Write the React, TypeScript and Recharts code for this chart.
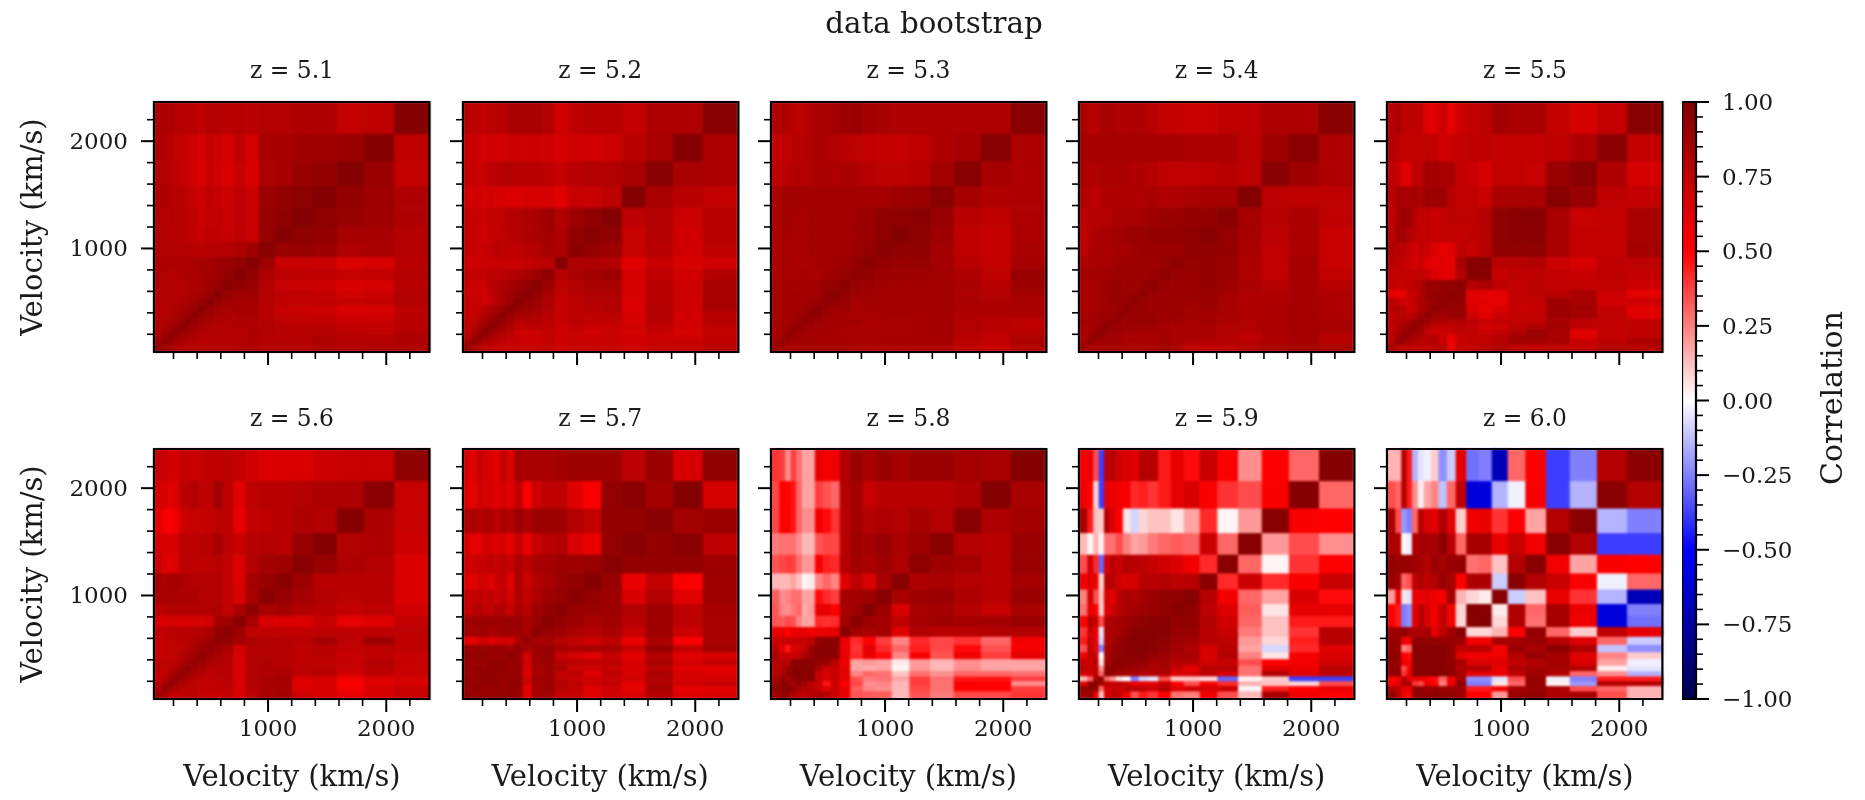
import { ComposedChart, ReferenceArea, Scatter, XAxis, YAxis } from "recharts";

// bin edges in km/s, 20 bins
const velEdges = [35, 110, 160, 205, 250, 300, 350, 410, 475, 545, 620, 710, 815, 925, 1060, 1210, 1385, 1585, 1815, 2070, 2365];
const velTicks = [200, 400, 600, 800, 1000, 1200, 1400, 1600, 1800, 2000, 2200];
const velLabels = [1000, 2000];
const cbarTicks = [-1, -0.95, -0.9, -0.85, -0.8, -0.75, -0.7, -0.65, -0.6, -0.55, -0.5, -0.45, -0.4, -0.35, -0.3, -0.25, -0.2, -0.15, -0.1, -0.05, 0, 0.05, 0.1, 0.15, 0.2, 0.25, 0.3, 0.35, 0.4, 0.45, 0.5, 0.55, 0.6, 0.65, 0.7, 0.75, 0.8, 0.85, 0.9, 0.95, 1];
const cbarLabels = [-1, -0.75, -0.5, -0.25, 0, 0.25, 0.5, 0.75, 1];
const cmapOffsets = [0, 0.25, 0.5, 0.75, 1];
const cmapColors = ["#800000", "#ff0000", "#ffffff", "#0000ff", "#00004d"];

// correlation x100, lower triangle, row i holds columns 0..i
const z51 = [
  [92], [88, 96], [84, 90, 96], [82, 86, 90, 97], [80, 84, 86, 90, 97], [80, 82, 84, 87, 90, 97],
  [80, 80, 82, 84, 87, 90, 97], [78, 78, 80, 82, 84, 86, 90, 97], [79, 79, 80, 80, 82, 84, 87, 90, 97],
  [80, 80, 80, 80, 80, 82, 84, 86, 90, 97], [80, 80, 80, 80, 80, 81, 82, 84, 87, 90, 97],
  [81, 81, 80, 80, 81, 82, 83, 85, 86, 88, 92, 98], [82, 82, 82, 82, 82, 82, 84, 85, 86, 88, 90, 93, 98],
  [80, 80, 80, 80, 80, 80, 78, 78, 79, 79, 80, 82, 88, 97],
  [80, 80, 78, 78, 78, 76, 74, 72, 76, 76, 72, 76, 72, 90, 98],
  [80, 80, 79, 78, 78, 76, 74, 71, 75, 75, 71, 76, 72, 91, 94, 98],
  [82, 82, 80, 78, 78, 76, 72, 70, 75, 73, 70, 76, 71, 89, 93, 95, 98],
  [80, 80, 78, 76, 74, 72, 68, 64, 72, 68, 64, 72, 64, 82, 85, 90, 92, 98],
  [82, 80, 78, 75, 74, 72, 68, 66, 73, 70, 66, 74, 66, 84, 85, 87, 88, 90, 98],
  [82, 82, 82, 80, 78, 78, 78, 76, 80, 80, 78, 79, 78, 80, 80, 82, 82, 74, 76, 98],
];
const z52 = [
  [90], [84, 95], [78, 88, 96], [76, 82, 90, 96], [74, 80, 86, 90, 96], [74, 76, 82, 86, 90, 96],
  [72, 74, 78, 82, 86, 90, 96], [72, 72, 74, 78, 82, 86, 90, 96], [72, 72, 72, 68, 74, 78, 84, 90, 96],
  [72, 70, 70, 68, 76, 80, 84, 88, 92, 97], [72, 70, 70, 70, 78, 80, 82, 85, 88, 92, 97],
  [74, 74, 74, 74, 76, 76, 78, 80, 82, 84, 88, 95], [70, 70, 70, 70, 70, 72, 72, 72, 72, 74, 76, 78, 98],
  [72, 72, 70, 72, 74, 78, 76, 76, 76, 78, 80, 84, 82, 96],
  [72, 72, 70, 68, 72, 74, 76, 78, 80, 82, 84, 86, 82, 92, 97],
  [72, 72, 72, 70, 72, 74, 76, 80, 80, 82, 84, 88, 80, 88, 94, 98],
  [68, 68, 68, 66, 68, 66, 66, 64, 64, 66, 66, 66, 62, 72, 72, 76, 98],
  [72, 72, 70, 72, 76, 78, 80, 80, 78, 78, 78, 76, 72, 78, 80, 80, 84, 97],
  [72, 72, 68, 66, 68, 68, 68, 70, 70, 70, 70, 68, 66, 68, 68, 70, 78, 84, 98],
  [78, 76, 76, 74, 76, 78, 78, 84, 84, 84, 84, 80, 68, 76, 78, 78, 74, 82, 82, 97],
];
const z53 = [
  [88], [86, 92], [84, 88, 94], [84, 86, 90, 94], [84, 86, 88, 90, 94], [84, 86, 86, 88, 90, 94],
  [84, 85, 86, 86, 88, 90, 94], [84, 85, 86, 85, 86, 88, 92, 96], [84, 85, 85, 85, 85, 86, 88, 90, 94],
  [84, 85, 85, 85, 86, 86, 86, 88, 92, 96], [84, 85, 85, 84, 85, 86, 86, 88, 90, 92, 96],
  [82, 85, 84, 84, 84, 86, 84, 84, 86, 88, 90, 94], [82, 85, 84, 84, 82, 84, 84, 86, 86, 87, 88, 92, 96],
  [82, 85, 84, 84, 84, 84, 86, 86, 86, 86, 87, 88, 92, 96],
  [82, 85, 85, 84, 84, 84, 86, 86, 86, 86, 86, 88, 90, 94, 98],
  [82, 86, 86, 85, 85, 84, 86, 86, 86, 86, 86, 88, 90, 94, 94, 96],
  [82, 86, 86, 86, 86, 86, 86, 86, 86, 86, 86, 86, 86, 86, 88, 90, 97],
  [76, 76, 78, 79, 81, 80, 81, 83, 84, 82, 84, 82, 78, 76, 76, 78, 86, 97],
  [73, 75, 75, 77, 78, 78, 81, 83, 82, 80, 78, 76, 74, 73, 73, 76, 81, 85, 97],
  [80, 82, 80, 78, 76, 76, 82, 84, 84, 86, 88, 90, 86, 84, 82, 82, 82, 82, 82, 97],
];
const z54 = [
  [88], [84, 94], [82, 88, 94], [84, 86, 90, 94], [84, 86, 88, 90, 94], [86, 86, 86, 88, 90, 94],
  [84, 86, 86, 88, 88, 90, 94], [82, 84, 84, 86, 88, 88, 90, 94], [82, 84, 84, 86, 88, 90, 90, 90, 94],
  [84, 84, 84, 86, 88, 90, 90, 90, 90, 94], [84, 84, 84, 86, 88, 90, 90, 88, 88, 90, 94],
  [86, 86, 86, 86, 86, 88, 88, 88, 88, 88, 90, 94], [82, 84, 84, 84, 84, 86, 88, 88, 88, 88, 88, 90, 94],
  [76, 82, 84, 84, 84, 84, 86, 86, 88, 90, 90, 90, 90, 94],
  [74, 80, 82, 84, 84, 86, 86, 88, 90, 90, 92, 92, 92, 94, 97],
  [76, 80, 80, 80, 80, 82, 84, 84, 84, 86, 88, 90, 90, 92, 92, 96],
  [80, 78, 75, 79, 81, 81, 81, 81, 81, 82, 84, 82, 82, 84, 85, 85, 98],
  [84, 81, 81, 83, 83, 83, 83, 83, 81, 81, 79, 75, 75, 75, 76, 78, 76, 97],
  [85, 85, 85, 85, 85, 85, 85, 85, 85, 85, 85, 85, 85, 83, 83, 83, 76, 88, 96],
  [84, 78, 78, 84, 84, 84, 82, 82, 82, 82, 78, 74, 72, 72, 72, 76, 76, 82, 82, 97],
];
const z55 = [
  [84], [78, 94], [76, 86, 92], [76, 84, 90, 94], [74, 80, 86, 90, 94], [76, 78, 82, 86, 90, 94],
  [74, 78, 78, 74, 80, 88, 94], [78, 80, 78, 68, 74, 82, 88, 94], [78, 72, 70, 70, 74, 82, 86, 90, 94],
  [60, 58, 60, 72, 74, 80, 90, 92, 92, 96], [74, 72, 72, 76, 78, 80, 90, 90, 92, 92, 96],
  [74, 74, 74, 74, 74, 76, 70, 64, 62, 62, 80, 97], [78, 76, 74, 70, 66, 72, 62, 60, 62, 60, 84, 96, 98],
  [82, 78, 78, 74, 68, 74, 70, 64, 60, 62, 76, 72, 78, 94],
  [76, 86, 86, 80, 76, 74, 74, 72, 74, 74, 74, 76, 78, 94, 96],
  [74, 86, 88, 88, 80, 74, 74, 72, 74, 76, 76, 76, 80, 94, 96, 97],
  [76, 84, 84, 84, 86, 84, 88, 88, 88, 78, 74, 74, 70, 84, 84, 84, 97],
  [74, 72, 62, 62, 76, 76, 86, 86, 84, 84, 74, 72, 66, 74, 74, 72, 90, 97],
  [80, 76, 74, 74, 74, 74, 76, 74, 68, 70, 74, 76, 76, 74, 74, 74, 76, 82, 96],
  [78, 84, 76, 76, 76, 76, 62, 62, 70, 60, 70, 74, 76, 86, 84, 84, 74, 66, 74, 96],
];
const z56 = [
  [88], [82, 94], [76, 86, 94], [74, 80, 88, 94], [74, 76, 82, 88, 92], [76, 76, 78, 84, 88, 92],
  [76, 76, 76, 78, 84, 86, 92], [72, 74, 74, 76, 80, 84, 88, 94], [72, 74, 76, 76, 76, 80, 84, 88, 92],
  [72, 74, 76, 76, 78, 78, 82, 84, 88, 94], [74, 76, 76, 78, 78, 78, 80, 80, 84, 92, 96],
  [66, 64, 66, 66, 66, 66, 66, 66, 68, 86, 88, 96], [76, 78, 80, 80, 80, 80, 80, 80, 80, 82, 74, 84, 94],
  [84, 84, 84, 84, 82, 82, 82, 80, 80, 80, 74, 66, 84, 96],
  [86, 84, 86, 86, 84, 82, 80, 80, 80, 80, 74, 64, 86, 90, 96],
  [70, 64, 62, 64, 76, 76, 76, 76, 76, 78, 74, 64, 80, 86, 88, 96],
  [66, 66, 64, 66, 78, 76, 76, 78, 78, 86, 76, 72, 78, 80, 78, 90, 98],
  [60, 54, 52, 56, 68, 72, 72, 72, 74, 76, 76, 60, 74, 76, 78, 82, 80, 98],
  [66, 66, 62, 64, 76, 78, 80, 76, 76, 88, 76, 62, 76, 78, 78, 80, 82, 82, 96],
  [72, 72, 66, 66, 72, 72, 72, 72, 76, 76, 76, 74, 68, 64, 64, 64, 70, 72, 72, 94],
];
const z57 = [
  [92], [90, 94], [90, 92, 94], [92, 90, 92, 94], [90, 90, 92, 92, 94], [90, 92, 94, 92, 92, 94],
  [90, 90, 90, 90, 92, 92, 94], [92, 92, 92, 92, 90, 90, 90, 94], [90, 90, 92, 90, 90, 90, 90, 88, 92],
  [60, 60, 68, 70, 62, 66, 68, 66, 84, 92], [86, 86, 86, 88, 84, 86, 88, 88, 88, 84, 94],
  [86, 88, 88, 88, 88, 88, 88, 90, 90, 84, 90, 96], [72, 78, 80, 76, 74, 82, 80, 72, 84, 78, 88, 92, 96],
  [72, 74, 76, 72, 76, 70, 76, 66, 82, 74, 82, 88, 90, 96],
  [62, 62, 68, 68, 62, 70, 74, 62, 84, 70, 80, 84, 90, 92, 98],
  [68, 70, 74, 72, 76, 72, 76, 72, 84, 76, 84, 86, 88, 88, 90, 96],
  [64, 60, 60, 68, 66, 64, 66, 60, 72, 58, 72, 78, 80, 64, 58, 92, 97],
  [80, 84, 80, 82, 84, 76, 84, 80, 90, 82, 88, 88, 88, 80, 74, 92, 92, 97],
  [62, 60, 68, 66, 66, 62, 66, 62, 74, 52, 70, 76, 76, 62, 52, 92, 96, 86, 98],
  [64, 62, 74, 66, 64, 60, 74, 64, 86, 84, 84, 84, 86, 88, 88, 88, 76, 90, 66, 94],
];
const z58 = [
  [85], [92, 95], [88, 97, 92], [82, 92, 84, 94], [78, 84, 92, 96, 97], [76, 80, 88, 97, 97, 96],
  [78, 78, 76, 96, 96, 96, 97], [82, 72, 72, 72, 74, 84, 90, 97], [78, 62, 46, 66, 66, 70, 90, 96, 97],
  [70, 70, 70, 72, 72, 72, 76, 94, 96, 97], [58, 60, 50, 60, 60, 60, 56, 58, 58, 60, 97],
  [34, 32, 36, 34, 24, 18, 18, 42, 40, 42, 86, 97], [33, 24, 22, 26, 30, 16, 20, 58, 60, 50, 84, 88, 98],
  [32, 22, 24, 28, 28, 18, 18, 48, 42, 38, 86, 86, 88, 97],
  [14, 14, 14, 18, 12, 2, 4, 24, 30, 24, 62, 76, 64, 84, 97],
  [34, 36, 38, 38, 28, 20, 20, 52, 44, 42, 80, 86, 84, 88, 82, 95],
  [26, 28, 28, 28, 22, 14, 14, 34, 36, 36, 78, 88, 86, 90, 84, 88, 97],
  [36, 50, 52, 46, 30, 22, 22, 56, 48, 40, 78, 86, 80, 82, 80, 86, 80, 97],
  [36, 50, 50, 46, 30, 18, 18, 38, 34, 30, 80, 86, 72, 78, 78, 78, 78, 82, 98],
  [40, 38, 22, 38, 28, 18, 18, 60, 54, 55, 80, 90, 84, 90, 86, 90, 90, 86, 84, 98],
];
const z59 = [
  [85], [90, 95], [60, 94, 96], [12, 30, 85, 98], [65, 68, 75, 30, 96], [75, 72, 72, 20, 90, 96],
  [72, 70, 78, 5, 86, 92, 96], [55, 78, 70, 0, 85, 90, 95, 97], [35, 78, 55, -25, 82, 88, 94, 96, 97],
  [45, 75, 60, -8, 80, 85, 92, 96, 98, 97], [40, 70, 60, -5, 80, 82, 85, 92, 96, 96, 97],
  [50, 80, 72, 35, 80, 84, 86, 88, 92, 94, 96, 97], [28, 62, 50, 10, 62, 70, 78, 84, 86, 88, 90, 92, 97],
  [25, 68, 35, 12, 66, 60, 78, 84, 82, 86, 90, 92, 94, 97],
  [55, 65, 55, 8, 76, 78, 68, 65, 66, 78, 78, 80, 76, 78, 97],
  [35, 70, 42, -30, 65, 78, 72, 80, 78, 76, 72, 68, 64, 55, 42, 97],
  [14, 2, 15, 2, 28, 28, 35, 25, 18, 20, 26, 30, 32, 30, 70, 30, 97],
  [85, 45, 12, 10, 80, 62, 50, 5, -8, 8, 12, 12, 5, 18, 42, 2, 20, 97],
  [55, 50, 8, -38, 60, 58, 55, 54, 42, 44, 40, 45, 60, 65, 52, 40, 35, 52, 98],
  [52, 58, 35, -38, 75, 78, 68, 65, 62, 78, 78, 45, 60, 48, 72, 50, 22, 50, 30, 98],
];
const z60 = [
  [92], [80, 75], [55, 60, 85], [50, 55, 85, 60], [92, 92, 40, 58, 97], [92, 92, 35, 55, 97, 97],
  [92, 90, 55, 52, 97, 97, 97], [95, 92, 50, 48, 97, 97, 97, 97], [92, 90, 25, 30, 97, 97, 97, 97, 97],
  [92, 90, 55, 55, 95, 94, 92, 92, 92, 92], [88, 88, 95, 85, 82, 80, 85, 60, 75, 88, 97],
  [50, 45, -25, -22, 60, 80, 65, 55, 75, 55, 8, 97], [50, 45, -25, -22, 60, 80, 65, 55, 75, 55, 8, 98, 97],
  [20, 55, 5, -6, 58, 58, 62, 55, 55, 85, 15, 8, 4, 97],
  [90, 85, 30, 35, 75, 82, 75, 80, 90, 85, 50, 82, 82, -10, 97],
  [92, 90, 90, 90, 88, 85, 80, 90, 85, 90, 92, 28, 30, 12, 80, 97],
  [82, 82, 2, -3, 80, 85, 85, 85, 95, 78, 30, 85, 85, 58, 72, 55, 97],
  [85, 35, -20, -25, 30, 80, 65, 62, 82, 62, 10, 55, 58, 40, 52, 18, 80, 96],
  [35, 30, 80, 45, 22, 3, 18, 24, -12, 30, 75, -60, -60, -15, -3, 52, -38, -15, 96],
  [15, 15, 80, 45, -15, -5, -3, 10, -22, -10, 60, -28, -25, -70, 30, 50, -38, -25, 80, 96],
];

const topRow = [
  { z: "z = 5.1", rows: z51 },
  { z: "z = 5.2", rows: z52 },
  { z: "z = 5.3", rows: z53 },
  { z: "z = 5.4", rows: z54 },
  { z: "z = 5.5", rows: z55 },
];
const bottomRow = [
  { z: "z = 5.6", rows: z56 },
  { z: "z = 5.7", rows: z57 },
  { z: "z = 5.8", rows: z58 },
  { z: "z = 5.9", rows: z59 },
  { z: "z = 6.0", rows: z60 },
];

const FONT = "'DejaVu Serif', serif";
const TEXT = "#1a1a1a";
const panelW = 275.4;
const panelH = 250;
const panelLeft = [154.3, 462.5, 770.8, 1079, 1387.3];
const AXIS_W = 110;
const AXIS_H = 60;

function hexChannel(hex: string, k: number) {
  return parseInt(hex.slice(1 + k * 2, 3 + k * 2), 16);
}

// seismic reversed, value in -1..1
function cellColor(value: number) {
  const t = (1 - value) / 2;
  let n = 0;
  while (n < cmapOffsets.length - 2 && t > cmapOffsets[n + 1]) n++;
  const f = (t - cmapOffsets[n]) / (cmapOffsets[n + 1] - cmapOffsets[n]);
  const ch = [0, 1, 2].map((k) =>
    Math.round(hexChannel(cmapColors[n], k) + f * (hexChannel(cmapColors[n + 1], k) - hexChannel(cmapColors[n], k))),
  );
  return `rgb(${ch[0]},${ch[1]},${ch[2]})`;
}

function XTick({ x, y, payload, showLabel }: any) {
  const major = velLabels.includes(payload.value);
  return (
    <g>
      <line x1={x} x2={x} y1={y} y2={y + (major ? 13 : 7)} stroke="#000" strokeWidth={major ? 2 : 1.6} />
      {major && showLabel ? (
        <text x={x} y={y + 37} textAnchor="middle" fontSize={23} fontFamily={FONT} fill={TEXT}>
          {payload.value}
        </text>
      ) : null}
    </g>
  );
}

function YTick({ x, y, payload, showLabel }: any) {
  const major = velLabels.includes(payload.value);
  return (
    <g>
      <line x1={x} x2={x - (major ? 13 : 7)} y1={y} y2={y} stroke="#000" strokeWidth={major ? 2 : 1.6} />
      {major && showLabel ? (
        <text x={x - 26} y={y + 8} textAnchor="end" fontSize={23} fontFamily={FONT} fill={TEXT}>
          {payload.value}
        </text>
      ) : null}
    </g>
  );
}

function CbarTick({ x, y, payload }: any) {
  const major = cbarLabels.includes(payload.value);
  const label = payload.value < 0 ? `\u2212${Math.abs(payload.value).toFixed(2)}` : payload.value.toFixed(2);
  return (
    <g>
      <line x1={x} x2={x + (major ? 13 : 7)} y1={y} y2={y} stroke="#000" strokeWidth={major ? 2 : 1.6} />
      {major ? (
        <text x={x + 26} y={y + 8} textAnchor="start" fontSize={23} fontFamily={FONT} fill={TEXT}>
          {label}
        </text>
      ) : null}
    </g>
  );
}

function Caption({ text, cx, cy, size, rotate }: { text: string; cx: number; cy: number; size: number; rotate?: boolean }) {
  return (
    <div
      style={{
        position: "absolute",
        left: cx,
        top: cy,
        transform: `translate(-50%, -50%)${rotate ? " rotate(-90deg)" : ""}`,
        fontFamily: FONT,
        fontSize: size,
        color: TEXT,
        whiteSpace: "nowrap",
        lineHeight: 1,
      }}
    >
      {text}
    </div>
  );
}

function Panel({ rows, left, top, showX, showY }: { rows: number[][]; left: number; top: number; showX: boolean; showY: boolean }) {
  const cells: { i: number; j: number; x: number; y: number; value: number }[] = [];
  velEdges.slice(1).forEach((_, i) => {
    velEdges.slice(1).forEach((_, j) => {
      cells.push({
        i,
        j,
        x: velEdges[j],
        y: velEdges[i],
        value: (i >= j ? rows[i][j] : rows[j][i]) / 100,
      });
    });
  });
  return (
    <>
      {/* the cells sit in their own layer so only they get the soft look of the source image */}
      <div style={{ position: "absolute", left, top, filter: "blur(1.1px)" }}>
        <ComposedChart width={panelW} height={panelH} margin={{ top: 0, right: 0, bottom: 0, left: 0 }} data={cells}>
          <XAxis type="number" dataKey="x" domain={[velEdges[0], velEdges[20]]} hide />
          <YAxis type="number" dataKey="y" domain={[velEdges[0], velEdges[20]]} hide />
          <Scatter data={cells.slice(0, 1)} dataKey="y" shape={() => null} isAnimationActive={false} />
          {cells.map((c) => (
            <ReferenceArea
              key={`${c.i}-${c.j}`}
              x1={velEdges[c.j]}
              x2={velEdges[c.j + 1]}
              y1={velEdges[c.i]}
              y2={velEdges[c.i + 1]}
              fill={cellColor(c.value)}
              fillOpacity={1}
              stroke={cellColor(c.value)}
              strokeOpacity={1}
              strokeWidth={1}
            />
          ))}
        </ComposedChart>
      </div>
      <div style={{ position: "absolute", left: left - AXIS_W, top: top - 2 }}>
        <ComposedChart
          width={AXIS_W + panelW + 4}
          height={panelH + 2 + AXIS_H}
          margin={{ top: 2, right: 4, bottom: 0, left: 0 }}
          data={cells.slice(0, 1)}
        >
          <XAxis
            type="number"
            dataKey="x"
            domain={[velEdges[0], velEdges[20]]}
            ticks={velTicks}
            interval={0}
            height={AXIS_H}
            axisLine={false}
            tickLine={false}
            tickSize={0}
            tickMargin={0}
            tick={<XTick showLabel={showX} />}
          />
          <YAxis
            type="number"
            dataKey="y"
            domain={[velEdges[0], velEdges[20]]}
            ticks={velTicks}
            interval={0}
            width={AXIS_W}
            axisLine={false}
            tickLine={false}
            tickSize={0}
            tickMargin={0}
            tick={<YTick showLabel={showY} />}
          />
          <Scatter dataKey="y" shape={() => null} isAnimationActive={false} />
          <ReferenceArea
            x1={velEdges[0]}
            x2={velEdges[20]}
            y1={velEdges[0]}
            y2={velEdges[20]}
            fill="none"
            stroke="#000"
            strokeOpacity={1}
            strokeWidth={2.2}
          />
        </ComposedChart>
      </div>
    </>
  );
}

const cbarAnchor = [{ x: 0, y: -1 }, { x: 1, y: 1 }];

function Colorbar() {
  return (
    <div style={{ position: "absolute", left: 1682, top: 82 }}>
      <ComposedChart width={170} height={637} margin={{ top: 20, right: 0, bottom: 20, left: 0 }} data={cbarAnchor}>
        <defs>
          <linearGradient id="cbarFill" x1="0" y1="0" x2="0" y2="1">
            {cmapOffsets.map((o, k) => (
              <stop key={o} offset={`${o * 100}%`} stopColor={cmapColors[k]} />
            ))}
          </linearGradient>
        </defs>
        <XAxis type="number" dataKey="x" domain={[0, 1]} hide />
        <YAxis
          type="number"
          dataKey="y"
          orientation="right"
          domain={[-1, 1]}
          ticks={cbarTicks}
          interval={0}
          width={156}
          axisLine={false}
          tickLine={false}
          tickSize={0}
          tickMargin={0}
          tick={<CbarTick />}
        />
        <Scatter dataKey="y" shape={() => null} isAnimationActive={false} />
        <ReferenceArea x1={0} x2={1} y1={-1} y2={1} fill="url(#cbarFill)" fillOpacity={1} stroke="#000" strokeOpacity={1} strokeWidth={2.2} />
      </ComposedChart>
    </div>
  );
}

export default function App() {
  return (
    <div
      style={{
        position: "absolute",
        left: 0,
        top: 0,
        width: 1865,
        height: 800,
        background: "#fff",
        overflow: "hidden",
        filter: "blur(0.5px)",
      }}
    >
      <Caption text="data bootstrap" cx={934} cy={24} size={29.3} />
      {topRow.map((p, k) => (
        <div key={p.z}>
          <Panel rows={p.rows} left={panelLeft[k]} top={102} showX={false} showY={k === 0} />
          <Caption text={p.z} cx={panelLeft[k] + panelW / 2} cy={71} size={23.4} />
        </div>
      ))}
      {bottomRow.map((p, k) => (
        <div key={p.z}>
          <Panel rows={p.rows} left={panelLeft[k]} top={449} showX showY={k === 0} />
          <Caption text={p.z} cx={panelLeft[k] + panelW / 2} cy={419} size={23.4} />
          <Caption text="Velocity (km/s)" cx={panelLeft[k] + panelW / 2} cy={776} size={29} />
        </div>
      ))}
      <Caption text="Velocity (km/s)" cx={32} cy={227} size={29} rotate />
      <Caption text="Velocity (km/s)" cx={32} cy={574} size={29} rotate />
      <Colorbar />
      <Caption text="Correlation" cx={1832} cy={398} size={30} rotate />
    </div>
  );
}
